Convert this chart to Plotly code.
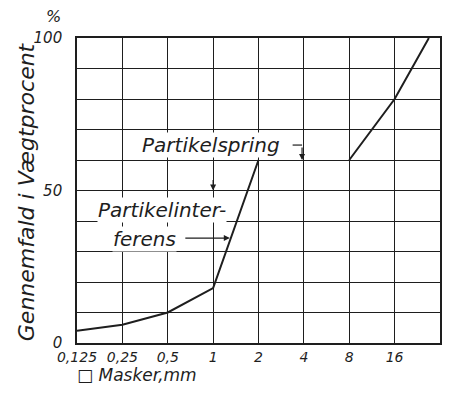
import plotly.graph_objects as go

# Sieve sizes (mm) and passing percentages (gap = particle jump between 2 and 8 mm)
sieve_sizes = [0.125, 0.25, 0.5, 1, 2, 4, 8, 16, 27]
passing_pct = [4, 6, 10, 18, 60, None, 60, 80, 100]

x_ticks = [0.125, 0.25, 0.5, 1, 2, 4, 8, 16, 32]
x_ticklabels = ["0,125", "0,25", "0,5", "1", "2", "4", "8", "16", "32"]
y_ticks = [0, 10, 20, 30, 40, 50, 60, 70, 80, 90, 100]
y_ticklabels = ["0", "", "", "", "", "50", "", "", "", "", "100"]

ink = "#1e1e1e"
FONT = dict(family="DejaVu Sans", style="italic", color=ink)

fig = go.Figure()
fig.add_trace(go.Scatter(x=sieve_sizes, y=passing_pct, mode="lines",
                         line=dict(color=ink, width=2), connectgaps=False,
                         hoverinfo="skip"))

# the page shows the figure offset by the 8px body margin; size it to the visible area
fig.update_layout(
    width=438, height=377,
    margin=dict(l=69, r=6, t=30, b=42, autoexpand=False),
    paper_bgcolor="white", plot_bgcolor="white",
    showlegend=False,
    font=dict(size=14, **FONT),
)
fig.update_xaxes(type="log", range=[-0.9031, 1.5052], automargin=False,
                 tickvals=x_ticks, ticktext=x_ticklabels,
                 showgrid=True, gridcolor=ink, gridwidth=1.3,
                 showline=True, linecolor=ink, linewidth=1.6, mirror=True,
                 ticks="", zeroline=False, tickfont=dict(size=14, **FONT))
fig.update_yaxes(range=[0, 100], automargin=False,
                 tickvals=y_ticks, ticktext=y_ticklabels,
                 showgrid=True, gridcolor=ink, gridwidth=1.3,
                 showline=True, linecolor=ink, linewidth=1.6, mirror=True,
                 ticks="", zeroline=False, ticklabelstandoff=10,
                 tickfont=dict(size=15, **FONT))

def txt(text, x, y, size, **kw):
    d = dict(text=text, x=x, y=y, xref="paper", yref="paper", showarrow=False,
             xanchor="center", yanchor="middle", font=dict(size=size, **FONT))
    d.update(kw)
    return d

def arrow(x, y, ax, ay):
    return dict(text="", x=x, y=y, xref="paper", yref="paper", showarrow=True,
                ax=ax, ay=ay, arrowhead=2, arrowsize=1, arrowwidth=1.2, arrowcolor=ink)

ann = [
    txt("%", -0.066, 1.072, 16),
    txt("Gennemfald i Vægtprocent", -0.14, 0.495, 22, textangle=-90),
    txt("\u25a1 Masker,mm", -0.005, -0.104, 17, xanchor="left"),
    txt("Partikelspring", 0.369, 0.649, 20, bgcolor="white", borderpad=0),
    txt("Partikelinter-", 0.234, 0.436, 20, bgcolor="white", borderpad=0),
    txt("ferens", 0.185, 0.341, 20, bgcolor="white", borderpad=0),
    arrow(0.421, 0.344, -46, 0),
    arrow(0.62, 0.6, 0, -14),
    arrow(0.375, 0.5, 0, -12),
]
fig.update_layout(annotations=ann)
fig.add_shape(type="line", xref="paper", yref="paper",
              x0=0.594, x1=0.62, y0=0.649, y1=0.649, line=dict(color=ink, width=1.2))

fig.write_html("out.html", config={"displayModeBar": False})
